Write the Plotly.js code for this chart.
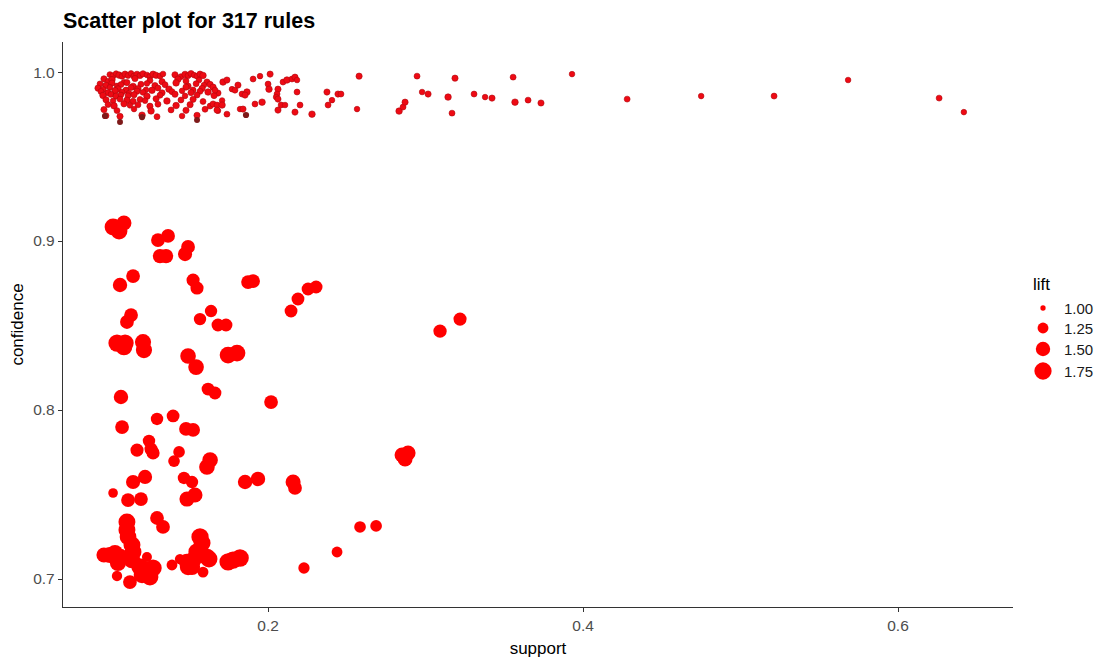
<!DOCTYPE html>
<html>
<head>
<meta charset="utf-8">
<script src="https://cdn.plot.ly/plotly-3.0.1.min.js"></script>
<style>html,body{margin:0;padding:0;background:#fff;}#chart{width:1102px;height:659px;}</style>
</head>
<body>
<div id="chart"></div>
<script>
// ---- Data: high-confidence rules (lift close to 1) ----
const upperSupport = [
  0.0996,0.1016,0.1035,0.1054,0.1073,0.1092,0.1111,0.1130,0.1149,0.1168,0.1187,0.1206,0.1231,0.1250,0.1270,0.1289,0.1314,0.1333,0.1409,0.1447,0.1473,0.1492,0.1511,0.1530,0.1549,0.1568,0.1587,
  0.0958,0.0984,0.1009,0.1085,0.1155,0.1250,0.1327,0.1428,0.1479,0.1562,0.1612,
  0.0933,0.0971,0.1009,0.1041,0.1066,0.1104,0.1143,0.1193,0.1231,0.1282,0.1346,0.1416,0.1492,0.1543,0.1593,0.1632,
  0.0920,0.0952,0.0996,0.1047,0.1098,0.1130,0.1174,0.1225,0.1301,0.1371,0.1479,0.1524,0.1581,0.1651,
  0.0939,0.0984,0.1028,0.1073,0.1117,0.1168,0.1206,0.1263,0.1327,0.1390,0.1454,0.1511,0.1568,0.1619,0.1682,
  0.0952,0.1003,0.1035,0.1066,0.1111,0.1149,0.1231,0.1314,0.1409,0.1473,0.1549,0.1657,
  0.0971,0.1016,0.1060,0.1104,0.1143,0.1187,0.1219,0.1289,0.1358,0.1447,0.1524,0.1587,0.1708,
  0.0984,0.1022,0.1085,0.1123,0.1174,0.1250,0.1301,0.1416,0.1505,0.1632,
  0.0958,0.1041,0.1149,0.1257,0.1384,0.1479,0.1600,0.1682,
  0.0971,0.1060,0.1200,0.1295,0.1454,0.1549,
  0.1651,0.1663,0.1714,0.1739,0.1771,0.1790,0.1809,0.1835,0.1866,0.1854,
  0.1905,0.1949,0.2013,0.2000,0.2006,0.2063,0.2057,0.2051,0.2063,0.2095,
  0.2120,0.2152,0.2171,0.2184,0.2184,0.1651,0.1676,0.1708,0.1676,0.1739,
  0.1822,0.1841,0.1917,0.1962,0.2063,0.2083,0.2108,0.2171,0.2203,0.2279,
  0.2374,0.2381,0.2406,0.2444,
  0.2463,0.2578,0.2565,0.2832,0.2857,0.2870,0.2946,0.2978,0.3016,0.3143,0.3168,0.3187,0.3308,0.3378,0.3422,0.3556,0.3568,0.3651,0.3733,0.3930,0.4280,
  0.4750,0.5213,0.5683,0.6261,0.6418
];
const upperConfidence = [
  0.9985,0.9978,0.9991,0.9982,0.9975,0.9988,0.9980,0.9992,0.9976,0.9986,0.9979,0.9990,0.9983,0.9974,0.9987,0.9981,0.9977,0.9989,0.9984,0.9973,0.9986,0.9979,0.9991,0.9982,0.9976,0.9988,0.9980,
  0.9960,0.9945,0.9955,0.9940,0.9962,0.9950,0.9943,0.9958,0.9947,0.9953,0.9941,
  0.9930,0.9921,0.9935,0.9918,0.9926,0.9938,0.9915,0.9928,0.9933,0.9920,0.9925,0.9936,0.9917,0.9931,0.9923,0.9927,
  0.9905,0.9897,0.9910,0.9900,0.9893,0.9908,0.9902,0.9895,0.9906,0.9899,0.9911,0.9894,0.9903,0.9909,
  0.9885,0.9878,0.9890,0.9881,0.9875,0.9887,0.9880,0.9892,0.9877,0.9884,0.9889,0.9879,0.9886,0.9882,0.9876,
  0.9862,0.9868,0.9858,0.9865,0.9860,0.9866,0.9857,0.9863,0.9869,0.9859,0.9864,0.9861,
  0.9836,0.9830,0.9840,0.9833,0.9827,0.9838,0.9831,0.9842,0.9829,0.9835,0.9839,0.9826,0.9832,
  0.9808,0.9800,0.9812,0.9803,0.9806,0.9798,0.9810,0.9802,0.9807,0.9799,
  0.9778,0.9772,0.9781,0.9770,0.9776,0.9774,0.9780,0.9771,
  0.9742,0.9738,0.9745,0.9736,0.9740,0.9744,
  0.9911,0.9893,0.9941,0.9953,0.9899,0.9893,0.9923,0.9870,0.9882,0.9864,
  0.9959,0.9976,0.9988,0.9929,0.9899,0.9899,0.9870,0.9852,0.9840,0.9941,
  0.9953,0.9959,0.9970,0.9953,0.9882,0.9811,0.9805,0.9805,0.9775,0.9751,
  0.9781,0.9781,0.9811,0.9822,0.9775,0.9805,0.9805,0.9763,0.9805,0.9751,
  0.9882,0.9805,0.9834,0.9870,
  0.9870,0.9976,0.9781,0.9769,0.9793,0.9822,0.9976,0.9882,0.9870,0.9852,0.9757,0.9964,0.9870,0.9852,0.9846,0.9970,0.9822,0.9834,0.9817,0.9988,0.9840,
  0.9858,0.9858,0.9953,0.9846,0.9763
];
const upperLift = [
  1.02,1.03,1.01,1.04,1.02,1.03,1.02,1.01,1.03,1.04,1.02,1.03,1.01,1.02,1.04,1.03,1.02,1.01,1.03,1.02,1.04,1.02,1.03,1.01,1.02,1.03,1.04,
  1.03,1.02,1.04,1.01,1.03,1.02,1.03,1.04,1.02,1.01,1.03,
  1.02,1.04,1.03,1.01,1.02,1.03,1.04,1.02,1.01,1.03,1.02,1.04,1.03,1.02,1.01,1.03,
  1.03,1.02,1.01,1.04,1.03,1.02,1.03,1.01,1.02,1.04,1.03,1.02,1.03,1.01,
  1.02,1.03,1.04,1.02,1.01,1.03,1.02,1.04,1.03,1.02,1.01,1.03,1.02,1.04,1.03,
  1.04,1.02,1.03,1.01,1.02,1.03,1.04,1.02,1.03,1.01,1.02,1.03,
  1.03,1.01,1.02,1.04,1.03,1.02,1.01,1.03,1.04,1.02,1.03,1.02,1.01,
  1.02,1.04,1.03,1.01,1.02,1.03,1.02,1.04,1.03,1.02,
  1.03,1.02,1.01,1.04,1.02,1.03,1.02,1.01,
  1.02,1.03,1.04,1.02,1.01,1.03,
  1.03,1.02,1.04,1.03,1.01,1.02,1.03,1.02,1.04,1.03,
  1.02,1.01,1.03,1.02,1.04,1.03,1.02,1.01,1.03,1.02,
  1.04,1.02,1.03,1.01,1.02,1.03,1.02,1.04,1.03,1.02,
  1.01,1.03,1.02,1.04,1.03,1.02,1.01,1.03,1.02,1.04,
  1.03,1.02,1.01,1.03,
  1.02,1.03,1.01,1.04,1.02,1.03,1.02,1.01,1.03,1.04,1.02,1.03,1.02,1.01,1.03,1.02,1.04,1.02,1.03,1.01,1.02,
  1.01,1.02,1.01,1.02,1.01
];

// a few darker-looking rules at the bottom of the top band
const darkSupport = [0.0965,0.1060,0.1200,0.1549,0.1860];
const darkConfidence = [0.9740,0.9704,0.9734,0.9716,0.9746];
const darkLift = [1.03,1.02,1.03,1.02,1.03];

// ---- Data: lower-confidence rules with higher lift ----
const lowerSupport = [
  0.1016,0.1054,0.1085,0.1301,0.1365,0.1314,0.1352,0.1473,0.1492,0.1060,
  0.1143,0.1524,0.1549,0.1873,0.1905,0.2146,0.2190,0.2254,0.2305,0.3092,
  0.3219,0.1104,0.1130,0.1568,0.1638,0.1682,0.1733,0.1041,0.1092,0.1085,
  0.1206,0.1212,0.1492,0.1543,0.1746,0.1803,0.1066,0.1619,0.1663,0.2019,
  0.1295,0.1397,0.1479,0.1524,0.1073,0.1168,0.1244,0.1257,0.1270,0.1435,
  0.1403,0.1612,0.1632,0.1143,0.1219,0.1466,0.1517,0.1854,0.1936,0.2159,
  0.2171,0.1016,0.1111,0.1193,0.1485,0.1536,0.1295,0.1333,0.2851,0.2889,
  0.2870,0.2584,0.2686,0.2438,0.2228,0.1104,0.1104,0.1111,0.1136,0.0996,
  0.1028,0.1060,0.1047,0.1143,0.1136,0.1187,0.1231,0.1270,0.1200,0.1250,
  0.1231,0.1041,0.1123,0.1390,0.1441,0.1485,0.1517,0.1568,0.1581,0.1549,
  0.1612,0.1625,0.1524,0.1492,0.1587,0.1746,0.1777,0.1822,0.0958
];
const lowerConfidence = [
  0.9083,0.9059,0.9107,0.9006,0.9030,0.8911,0.8911,0.8923,0.8965,0.8740,
  0.8793,0.8769,0.8722,0.8757,0.8763,0.8586,0.8657,0.8716,0.8728,0.8467,
  0.8538,0.8521,0.8562,0.8538,0.8586,0.8503,0.8503,0.8396,0.8396,0.8373,
  0.8402,0.8355,0.8320,0.8254,0.8325,0.8337,0.8077,0.8124,0.8101,0.8047,
  0.7947,0.7965,0.7888,0.7882,0.7899,0.7763,0.7817,0.7769,0.7746,0.7752,
  0.7698,0.7663,0.7704,0.7574,0.7604,0.7598,0.7574,0.7574,0.7592,0.7574,
  0.7539,0.7509,0.7467,0.7473,0.7473,0.7497,0.7361,0.7308,0.7734,0.7746,
  0.7710,0.7308,0.7314,0.7160,0.7065,0.7337,0.7290,0.7249,0.7201,0.7142,
  0.7154,0.7130,0.7095,0.7160,0.7112,0.7071,0.7053,0.7065,0.7024,0.7012,
  0.7130,0.7018,0.6982,0.7083,0.7118,0.7101,0.7071,0.7249,0.7213,0.7160,
  0.7130,0.7118,0.7112,0.7071,0.7041,0.7101,0.7112,0.7124,0.7142
];
const lowerLift = [
  1.72,1.70,1.55,1.45,1.45,1.50,1.50,1.48,1.45,1.50,
  1.45,1.40,1.40,1.45,1.45,1.38,1.38,1.38,1.38,1.42,
  1.40,1.45,1.45,1.35,1.35,1.38,1.38,1.75,1.75,1.70,
  1.65,1.65,1.60,1.60,1.70,1.70,1.50,1.38,1.38,1.45,
  1.35,1.38,1.45,1.45,1.45,1.40,1.35,1.40,1.40,1.30,
  1.30,1.60,1.60,1.48,1.48,1.35,1.35,1.50,1.50,1.55,
  1.45,1.18,1.45,1.45,1.55,1.55,1.45,1.45,1.55,1.55,
  1.55,1.30,1.30,1.25,1.28,1.72,1.72,1.70,1.72,1.65,
  1.65,1.70,1.65,1.70,1.68,1.75,1.78,1.75,1.70,1.72,
  1.20,1.22,1.45,1.25,1.22,1.65,1.65,1.75,1.72,1.75,
  1.70,1.72,1.70,1.68,1.25,1.75,1.75,1.78,1.55
];

// ---- Axis ticks and legend ----
const xTickVals = [0.2, 0.4, 0.6];
const xTickText = ['0.2', '0.4', '0.6'];
const yTickVals = [0.7, 0.8, 0.9, 1.0];
const yTickText = ['0.7', '0.8', '0.9', '1.0'];
const legendLift = [1.00, 1.25, 1.50, 1.75];
const legendLabels = ['1.00', '1.25', '1.50', '1.75'];

// size scale (area proportional to lift, like ggplot scale_size)
function liftToSize(l) { return Math.sqrt(28 + 360 * Math.max(l - 1, 0)); }

const FONT = 'Liberation Sans, Arial, sans-serif';

const traces = [
  {
    type: 'scatter', mode: 'markers', x: upperSupport, y: upperConfidence,
    marker: { color: '#EE0A14', opacity: 1, size: upperLift.map(liftToSize), line: { width: 0.6, color: '#B0080E' } },
    hoverinfo: 'skip', showlegend: false
  },
  {
    type: 'scatter', mode: 'markers', x: darkSupport, y: darkConfidence,
    marker: { color: '#7E1A1A', opacity: 1, size: darkLift.map(liftToSize), line: { width: 0 } },
    hoverinfo: 'skip', showlegend: false
  },
  {
    type: 'scatter', mode: 'markers', x: lowerSupport, y: lowerConfidence,
    marker: { color: '#FF0000', opacity: 1, size: lowerLift.map(liftToSize), line: { width: 0 } },
    hoverinfo: 'skip', showlegend: false
  },
  // size legend drawn on a hidden pixel-scaled axis pair in the right margin
  {
    type: 'scatter', mode: 'markers', xaxis: 'x2', yaxis: 'y2',
    x: legendLift.map(() => 1043), y: [308, 328, 349, 371],
    marker: { color: '#FF0000', opacity: 1, size: legendLift.map(liftToSize), line: { width: 0 } },
    hoverinfo: 'skip', showlegend: false
  }
];

const legendY = [308, 328, 349, 371];
const annotations = legendLabels.map((t, i) => ({
  xref: 'x2', yref: 'y2', x: 1062, y: legendY[i], text: t, showarrow: false,
  xanchor: 'left', yanchor: 'middle', font: { family: FONT, size: 15, color: '#1a1a1a' }
}));
annotations.push({
  xref: 'x2', yref: 'y2', x: 1031, y: 284, text: 'lift', showarrow: false,
  xanchor: 'left', yanchor: 'middle', font: { family: FONT, size: 17, color: '#000' }
});

const layout = {
  width: 1102, height: 659,
  paper_bgcolor: '#fff', plot_bgcolor: '#fff',
  margin: { l: 63, r: 2, t: 42, b: 52 },
  font: { family: FONT },
  title: {
    text: '<b>Scatter plot for 317 rules</b>',
    font: { family: FONT, size: 21.5, color: '#000' },
    x: 0, xref: 'paper', xanchor: 'left',
    y: 1 - 20 / 659, yref: 'container', yanchor: 'middle'
  },
  xaxis: {
    domain: [0, 0.9161], range: [0.0698, 0.673],
    tickvals: xTickVals, ticktext: xTickText,
    ticks: 'outside', ticklen: 4, tickwidth: 1, tickcolor: '#333',
    showline: true, linecolor: '#333', linewidth: 1.2, mirror: false,
    showgrid: false, zeroline: false,
    tickfont: { family: FONT, size: 15.5, color: '#4D4D4D' },
    title: { text: 'support', font: { family: FONT, size: 17, color: '#000' }, standoff: 9 }
  },
  yaxis: {
    range: [0.68343, 1.0178],
    tickvals: yTickVals, ticktext: yTickText,
    ticks: 'outside', ticklen: 4, tickwidth: 1, tickcolor: '#333',
    showline: true, linecolor: '#333', linewidth: 1.2, mirror: false,
    showgrid: false, zeroline: false,
    tickfont: { family: FONT, size: 15.5, color: '#4D4D4D' },
    title: { text: 'confidence', font: { family: FONT, size: 17, color: '#000' }, standoff: 5 }
  },
  xaxis2: { domain: [0.9325, 1], range: [1030, 1100], anchor: 'y2', visible: false, fixedrange: true },
  yaxis2: { domain: [0, 1], range: [607, 42], anchor: 'x2', visible: false, fixedrange: true },
  annotations: annotations,
  showlegend: false
};

Plotly.newPlot('chart', traces, layout, { displayModeBar: false, staticPlot: true });
</script>
</body>
</html>
